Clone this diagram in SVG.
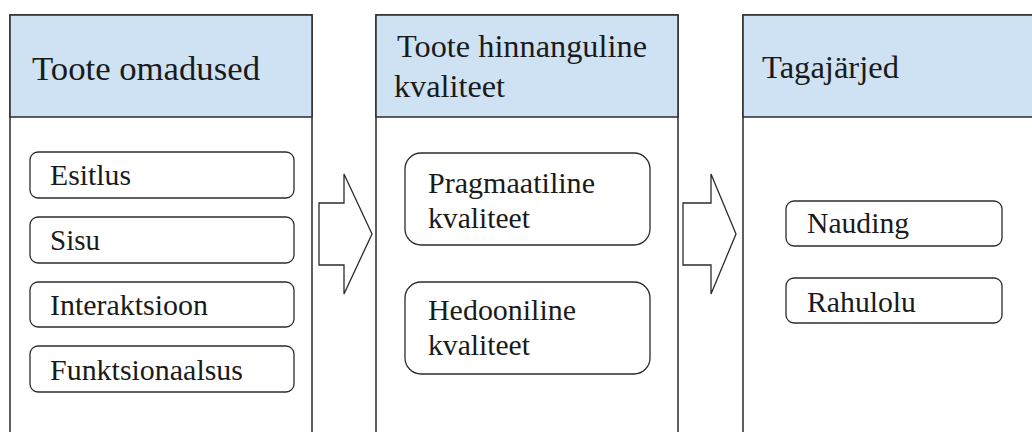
<svg xmlns="http://www.w3.org/2000/svg" width="1032" height="432" viewBox="0 0 1032 432">
  <style>
    .panel{fill:#ffffff;stroke:#2b2b2b;stroke-width:1.5}
    .hdr{fill:#cfe2f3;stroke:#2b2b2b;stroke-width:1.5}
    .item{fill:#ffffff;stroke:#2b2b2b;stroke-width:1.3}
    .arrow{fill:#ffffff;stroke:#2b2b2b;stroke-width:1.3;stroke-linejoin:miter}
    .ht{font-size:32px;fill:#1a1a1a}
    .h1{font-size:34px}
    .it{font-size:29px;fill:#1a1a1a}
  </style>
  <rect width="1032" height="432" fill="#ffffff"/>
  <g font-family="Liberation Serif, Times New Roman, DejaVu Serif, serif">
  <g id="panel1">
    <rect class="panel" x="10" y="15" width="302" height="430"/>
    <rect class="hdr" x="10" y="15" width="302" height="102"/>
    <text class="ht h1" x="32" y="80" textLength="228" lengthAdjust="spacingAndGlyphs">Toote omadused</text>
  </g>
  <g id="panel2">
    <rect class="panel" x="376" y="15" width="302" height="430"/>
    <rect class="hdr" x="376" y="15" width="302" height="102"/>
    <text class="ht" x="397" y="57" textLength="250" lengthAdjust="spacingAndGlyphs">Toote hinnanguline</text>
    <text class="ht" x="394" y="97" textLength="111" lengthAdjust="spacingAndGlyphs">kvaliteet</text>
  </g>
  <g id="panel3">
    <rect class="panel" x="743" y="15" width="310" height="430"/>
    <rect class="hdr" x="743" y="15" width="310" height="102"/>
    <text class="ht" x="762" y="78" textLength="137" lengthAdjust="spacingAndGlyphs">Tagajärjed</text>
  </g>
  <g id="esitlus">
    <rect class="item" x="30" y="152" width="264" height="46" rx="8"/>
    <text class="it" x="50" y="185" textLength="81" lengthAdjust="spacingAndGlyphs">Esitlus</text>
  </g>
  <g id="sisu">
    <rect class="item" x="30" y="217" width="264" height="46" rx="8"/>
    <text class="it" x="50" y="250" textLength="50" lengthAdjust="spacingAndGlyphs">Sisu</text>
  </g>
  <g id="interaktsioon">
    <rect class="item" x="30" y="282" width="264" height="45" rx="8"/>
    <text class="it" x="50" y="315" textLength="158" lengthAdjust="spacingAndGlyphs">Interaktsioon</text>
  </g>
  <g id="funktsionaalsus">
    <rect class="item" x="30" y="346" width="264" height="46" rx="8"/>
    <text class="it" x="50" y="380" textLength="193" lengthAdjust="spacingAndGlyphs">Funktsionaalsus</text>
  </g>
  <g id="pragmaatiline">
    <rect class="item" x="405" y="153" width="245" height="92" rx="16"/>
    <text class="it" x="428" y="193" textLength="167" lengthAdjust="spacingAndGlyphs">Pragmaatiline</text>
    <text class="it" x="428" y="228" textLength="102" lengthAdjust="spacingAndGlyphs">kvaliteet</text>
  </g>
  <g id="hedooniline">
    <rect class="item" x="405" y="282" width="245" height="92" rx="16"/>
    <text class="it" x="428" y="320" textLength="148" lengthAdjust="spacingAndGlyphs">Hedooniline</text>
    <text class="it" x="428" y="355" textLength="102" lengthAdjust="spacingAndGlyphs">kvaliteet</text>
  </g>
  <g id="nauding">
    <rect class="item" x="786" y="201" width="216" height="45" rx="8"/>
    <text class="it" x="807" y="233" textLength="102" lengthAdjust="spacingAndGlyphs">Nauding</text>
  </g>
  <g id="rahulolu">
    <rect class="item" x="786" y="278" width="216" height="45" rx="8"/>
    <text class="it" x="807" y="312" textLength="109" lengthAdjust="spacingAndGlyphs">Rahulolu</text>
  </g>
  </g>
  <g id="connectors">
    <polygon class="arrow" points="319,203 344,203 344,174 372,234 344,294 344,265 319,265"/>
    <polygon class="arrow" points="683,203 711,203 711,174 736,234 711,294 711,265 683,265"/>
  </g>
</svg>
